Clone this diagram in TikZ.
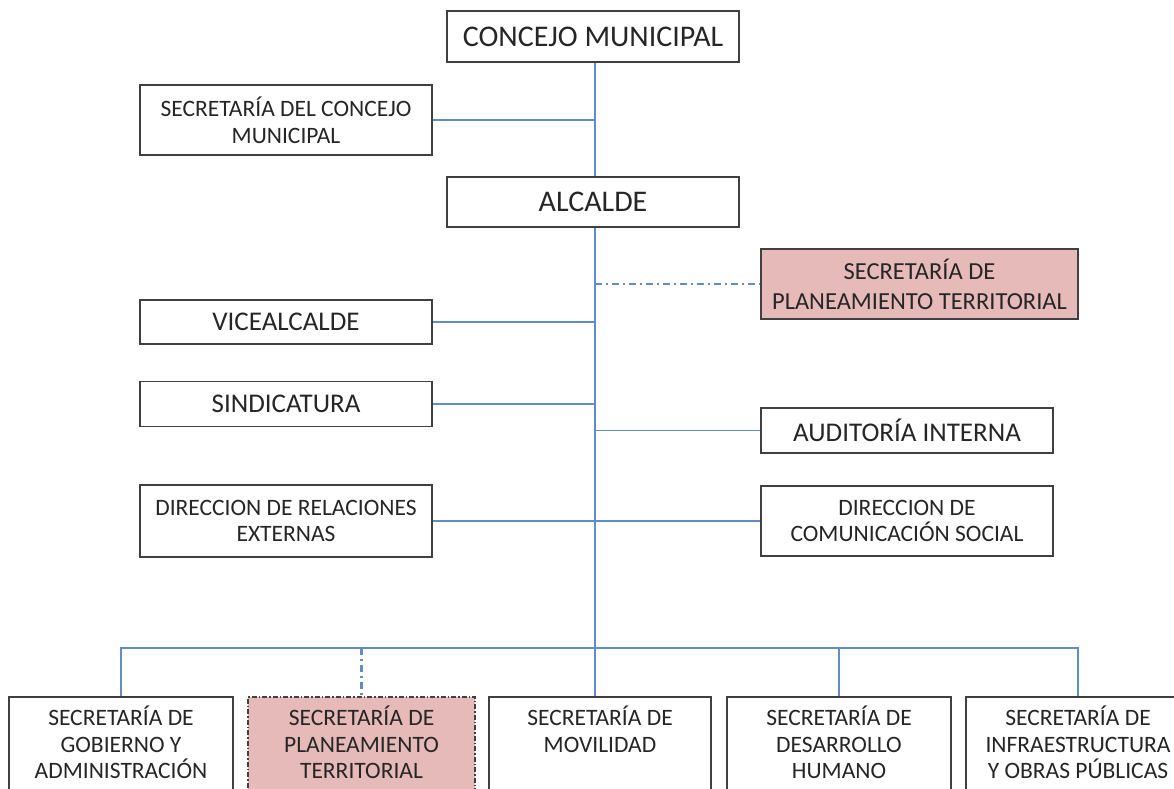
\documentclass[tikz,border=0pt]{standalone}
\usepackage{fontspec}
\setmainfont{Carlito}
\definecolor{boxc}{RGB}{64,64,64}
\definecolor{txt}{RGB}{38,38,38}
\definecolor{linec}{RGB}{96,140,200}
\definecolor{pinkc}{RGB}{230,186,185}
\newcommand{\lowpad}{\rule[-20pt]{0pt}{20pt}}
\tikzset{
  box/.style={draw=boxc, line width=1.5pt, fill=white, inner sep=0pt, align=center, text=txt},
  bigtxt/.style={font=\fontsize{30}{34}\selectfont},
  midtxt/.style={font=\fontsize{27}{30}\selectfont},
  smalltxt/.style={font=\fontsize{23.5}{26.7}\selectfont},
  pinktxt/.style={font=\fontsize{24.5}{30}\selectfont},
  pinkbox/.style={box, fill=pinkc},
  botbox/.style={box, smalltxt, anchor=north, inner ysep=9pt},
  conn/.style={draw=linec, line width=1.6pt},
  dashconn/.style={draw=linec, line width=2.2pt, dash pattern=on 7pt off 4pt on 2pt off 4pt},
}
\begin{document}
\begin{tikzpicture}[x=1pt,y=-1pt]
\useasboundingbox (0,0) rectangle (1174,788);
\coordinate (sp) at (595,0);
\coordinate (bus) at (0,648);
% nodes
\node[box,bigtxt,minimum width=292pt,minimum height=51pt] (concejo) at (593,36.5) {CONCEJO MUNICIPAL};
\node[box,smalltxt,minimum width=292pt,minimum height=70pt] (secconcejo) at (286,120) {SECRETARÍA DEL CONCEJO\\MUNICIPAL};
\node[box,bigtxt,minimum width=292pt,minimum height=50pt] (alcalde) at (593,202) {ALCALDE};
\node[pinkbox,pinktxt,minimum width=317pt,minimum height=70pt] (plan1) at (919.5,284) {SECRETARÍA DE\\PLANEAMIENTO TERRITORIAL};
\node[box,midtxt,minimum width=292pt,minimum height=44pt] (vice) at (286,322) {VICEALCALDE};
\node[box,midtxt,minimum width=292pt,minimum height=45pt] (sindic) at (286,404) {SINDICATURA};
\node[box,midtxt,minimum width=292pt,minimum height=45pt] (audit) at (907,430.5) {AUDITORÍA INTERNA};
\node[box,smalltxt,minimum width=292pt,minimum height=72pt] (dirrel) at (286,521) {DIRECCION DE RELACIONES\\EXTERNAS};
\node[box,smalltxt,minimum width=292pt,minimum height=70pt] (dircom) at (907,521) {DIRECCION DE\\COMUNICACIÓN SOCIAL};
% bottom row
\node[botbox,minimum width=224pt] (gob) at (121,696) {SECRETARÍA DE\\GOBIERNO Y\\ADMINISTRACIÓN\lowpad};
\node[botbox,fill=pinkc,minimum width=227pt,dash pattern=on 5pt off 2pt on 1.5pt off 2pt] (plan2) at (361.5,696) {SECRETARÍA DE\\PLANEAMIENTO\\TERRITORIAL\lowpad};
\node[botbox,minimum width=222pt] (mov) at (600,696) {SECRETARÍA DE\\MOVILIDAD\\\lowpad};
\node[botbox,minimum width=224pt] (desa) at (839,696) {SECRETARÍA DE\\DESARROLLO\\HUMANO\lowpad};
\node[botbox,minimum width=224pt] (infra) at (1078,696) {SECRETARÍA DE\\INFRAESTRUCTURA\\Y OBRAS PÚBLICAS\lowpad};
% connectors
\draw[conn] (concejo.south -| sp) -- (alcalde.north -| sp);
\draw[conn] (secconcejo.east) -- (secconcejo.east -| sp);
\draw[conn] (alcalde.south -| sp) -- (mov.north -| sp);
\draw[dashconn] (plan1.west -| sp) -- (plan1.west);
\draw[conn] (vice.east) -- (vice.east -| sp);
\draw[conn] (sindic.east) -- (sindic.east -| sp);
\draw[conn] (audit.west) -- (audit.west -| sp);
\draw[conn] (dirrel.east) -- (dircom.west);
\draw[conn] (gob.north) |- (bus -| infra.north) -- (infra.north);
\draw[conn] (desa.north) -- (desa.north |- bus);
\draw[dashconn] (plan2.north |- bus) -- (plan2.north);
\end{tikzpicture}
\end{document}
